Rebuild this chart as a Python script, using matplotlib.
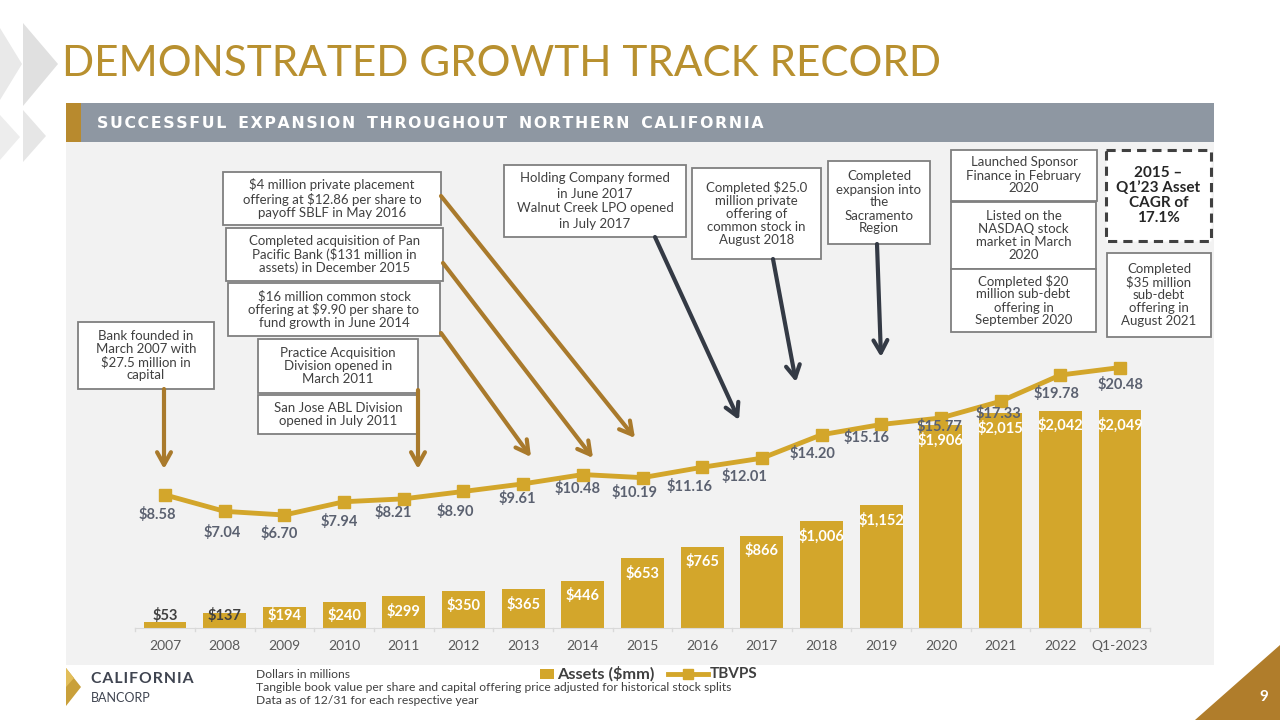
import matplotlib
matplotlib.use("Agg")
import matplotlib.pyplot as plt
from matplotlib.patches import Rectangle, Polygon, FancyArrowPatch

# ---------------- data ----------------
years = ["2007", "2008", "2009", "2010", "2011", "2012", "2013", "2014", "2015",
         "2016", "2017", "2018", "2019", "2020", "2021", "2022", "Q1-2023"]
assets = [53, 137, 194, 240, 299, 350, 365, 446, 653, 765, 866, 1006, 1152,
          1906, 2015, 2042, 2049]
tbvps = [8.58, 7.04, 6.70, 7.94, 8.21, 8.90, 9.61, 10.48, 10.19, 11.16, 12.01,
         14.20, 15.16, 15.77, 17.33, 19.78, 20.48]

title = "DEMONSTRATED GROWTH TRACK RECORD"
subtitle = "SUCCESSFUL EXPANSION THROUGHOUT NORTHERN CALIFORNIA"
footnotes = ["Dollars in millions",
             "Tangible book value per share and capital offering price adjusted for historical stock splits",
             "Data as of 12/31 for each respective year"]

# ---------------- style ----------------
GOLD = "#D3A62B"
BROWN = "#A97A2C"
DARK = "#343A45"
TXT = "#404040"
LBL = "#5B6170"
FONT = "Lato"
plt.rcParams['font.family'] = [FONT, 'DejaVu Sans']

fig = plt.figure(figsize=(12.8, 7.2), dpi=100)

def pix_axes(z):
    a = fig.add_axes([0, 0, 1, 1], zorder=z)
    a.set_xlim(0, 1280)
    a.set_ylim(720, 0)
    a.axis('off')
    a.patch.set_alpha(0)
    return a

bg = pix_axes(0)
# decorative triangles
for pts, c in [([(23, 23), (23, 106), (58, 64)], "#E0E0E0"),
               ([(0, 28), (0, 100), (22, 64)], "#E9E9E9"),
               ([(23, 110), (23, 162), (46, 136)], "#E6E6E6"),
               ([(0, 115), (0, 160), (20, 137)], "#EDEDED")]:
    bg.add_patch(Polygon(pts, closed=True, color=c, lw=0))
bg.text(62, 64, title, fontsize=30.4, color="#B8902F", va="center", ha="left",
        family=FONT, fontweight="normal")
bg.add_patch(Rectangle((66, 142), 1148, 523, color="#F2F2F2", lw=0))
bg.add_patch(Rectangle((66, 103), 1148, 39, color="#8E97A2", lw=0))
bg.add_patch(Rectangle((66, 103), 15, 39, color="#B88A2E", lw=0))
bg.text(97, 123, "\u200a".join(subtitle).replace("\u200a \u200a", "\u2009 \u2009"),
        fontsize=11.3, color="white", fontweight="bold", va="center", ha="left",
        family="DejaVu Sans")

# logo
bg.add_patch(Polygon([(66, 668), (66, 706), (81, 687)], closed=True, color="#C9A03A", lw=0))
bg.add_patch(Polygon([(66, 668), (74, 678), (66, 687)], closed=True, color="#E2BE5A", lw=0))
bg.text(91, 679, "\u200a".join("CALIFORNIA"), fontsize=11.3, fontweight="bold",
        color="#3F4450", va="center", ha="left", family=[FONT, "DejaVu Sans"])
bg.text(91, 698, "BANCORP", fontsize=9, color="#3F4450", va="center", ha="left",
        family=FONT)

# footnotes
for k, line in enumerate(footnotes):
    bg.text(256, 674 + k * 13.5, line, fontsize=8.7, color=TXT, va="center", ha="left")

# page number
bg.add_patch(Polygon([(1195, 720), (1280, 720), (1280, 645)], closed=True, color="#B07D2B", lw=0))
bg.text(1264, 697, "9", fontsize=11, color="white", fontweight="bold", va="center", ha="center")

# legend
bg.add_patch(Rectangle((540, 669), 14, 10, color=GOLD, lw=0))
bg.text(557, 674, "Assets ($mm)", fontsize=11.8, fontweight="bold", color=TXT, va="center", ha="left")
bg.plot([668, 708], [674, 674], color=GOLD, lw=3.5)
bg.plot([688], [674], marker="s", ms=7, color=GOLD)
bg.text(710, 674, "TBVPS", fontsize=11, fontweight="bold", color=TXT, va="center", ha="left")

# ---------------- chart ----------------
X0, X1 = 135.15, 1149.85
YB, YT = 628, 150
ax = fig.add_axes([X0 / 1280, (720 - YB) / 720, (X1 - X0) / 1280, (YB - YT) / 720], zorder=1)
ax.patch.set_alpha(0)
PXU = 0.1065  # px per $mm
ax.set_ylim(0, (YB - YT) / PXU)
ax.set_xlim(-0.5, len(years) - 0.5)
xs = list(range(len(years)))
ax.bar(xs, assets, width=0.72, color=GOLD, zorder=2)
for i, v in enumerate(assets):
    y = max(v - 15 / PXU, 13 / PXU)
    col = "white" if v > 180 else "#404040"
    ax.text(i, y, f"${v:,}", ha="center", va="center", fontsize=10.5,
            fontweight="bold", color=col, zorder=4)
ax.set_yticks([])
for s in ["top", "right", "left"]:
    ax.spines[s].set_visible(False)
ax.spines["bottom"].set_color("#D9D9D9")
ax.set_xticks(xs)
ax.set_xticklabels(years, fontsize=10, color="#595959")
ax.tick_params(axis="x", length=0, pad=9)
for i in range(len(years) + 1):
    ax.plot([i - 0.5, i - 0.5], [0, -3 / PXU], color="#D9D9D9", lw=1, clip_on=False)

ax2 = ax.twinx()
PXL = 10.7
ax2.set_ylim(6.70 - (YB - 515) / PXL, 6.70 + (515 - YT) / PXL)
ax2.plot(xs, tbvps, color=GOLD, lw=3.5, marker="s", ms=9, zorder=3)
ax2.axis("off")
label_offsets = [(-8, 20), (-2, 21), (-5, 18), (-5, 20), (-10, 14), (-8, 20), (-6, 15),
                 (-5, 14), (-8, 15), (-13, 19), (-17, 18), (-9, 19), (-15, 13), (-2, 9),
                 (-2, 12), (-4, 18), (0, 17)]
for i, v in enumerate(tbvps):
    dx, dy = label_offsets[i]
    ax2.annotate(f"${v:.2f}", (i, v), xytext=(dx, -dy), textcoords="offset pixels",
                 ha="center", va="center", fontsize=10.5, fontweight="bold", color=LBL)

# ---------------- annotations ----------------
ov = pix_axes(3)

def box(x0, y0, x1, y1, text, bold=False, dashed=False, fs=9.5, ls=1.1):
    if dashed:
        ov.add_patch(Rectangle((x0, y0), x1 - x0, y1 - y0, facecolor="white",
                               edgecolor="#404040", lw=2.2, ls=(0, (3, 2))))
    else:
        ov.add_patch(Rectangle((x0, y0), x1 - x0, y1 - y0, facecolor="white",
                               edgecolor="#7F7F7F", lw=1.3))
    ov.text((x0 + x1) / 2, (y0 + y1) / 2, text, ha="center", va="center",
            fontsize=fs, color="#262626" if bold else TXT,
            fontweight="bold" if bold else "normal", linespacing=ls)

def arrow(p0, p1, color):
    ov.add_patch(FancyArrowPatch(p0, p1, arrowstyle="->,head_length=9,head_width=5",
                                 color=color, lw=3, mutation_scale=1,
                                 shrinkA=0, shrinkB=0))

box(78, 322, 214, 389, "Bank founded in\nMarch 2007 with\n$27.5 million in\ncapital")
box(258, 339, 418, 393, "Practice Acquisition\nDivision opened in\nMarch 2011")
box(258, 395, 418, 434, "San Jose ABL Division\nopened in July 2011")
box(228, 283, 440, 336, "$16 million common stock\noffering at $9.90 per share to\nfund growth in June 2014")
box(226, 228, 443, 281, "Completed acquisition of Pan\nPacific Bank ($131 million in\nassets) in December 2015")
box(223, 172, 441, 225, "$4 million private placement\noffering at $12.86 per share to\npayoff SBLF in May 2016")
box(504, 165, 686, 237, "Holding Company formed\nin June 2017\nWalnut Creek LPO opened\nin July 2017", ls=1.3)
box(692, 168, 821, 259, "Completed $25.0\nmillion private\noffering of\ncommon stock in\nAugust 2018")
box(828, 161, 930, 244, "Completed\nexpansion into\nthe\nSacramento\nRegion")
box(951, 150, 1097, 201, "Launched Sponsor\nFinance in February\n2020")
box(951, 202, 1096, 269, "Listed on the\nNASDAQ stock\nmarket in March\n2020")
box(951, 269, 1096, 332, "Completed $20\nmillion sub-debt\noffering in\nSeptember 2020")
box(1106, 150, 1211, 241, "2015 \u2013\nQ1\u201923 Asset\nCAGR of\n17.1%", bold=True, dashed=True, fs=11)
box(1107, 253, 1211, 337, "Completed\n$35 million\nsub-debt\noffering in\nAugust 2021")

arrow((164, 389), (164, 469), BROWN)
arrow((418, 390), (418, 469), BROWN)
arrow((441, 333), (531, 457), BROWN)
arrow((443, 263), (593, 458), BROWN)
arrow((441, 196), (635, 438), BROWN)
arrow((655, 237), (739, 420), DARK)
arrow((773, 259), (796, 382), DARK)
arrow((877, 244), (881, 357), DARK)

fig.savefig("out.png", dpi=100)
